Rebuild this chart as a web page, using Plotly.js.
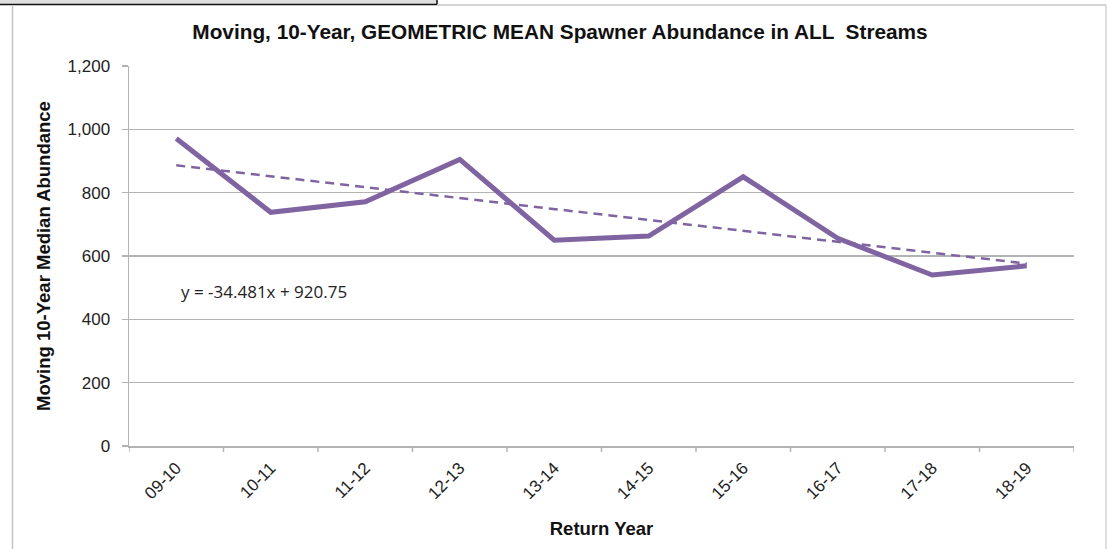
<!DOCTYPE html>
<html>
<head>
<meta charset="utf-8">
<script src="https://cdn.plot.ly/plotly-3.0.1.min.js"></script>
<style>
html,body{margin:0;padding:0;background:#fff;}
#chart{width:1107px;height:549px;}
</style>
</head>
<body>
<div id="chart"></div>
<script>
// Data
const returnYears = ['09-10','10-11','11-12','12-13','13-14','14-15','15-16','16-17','17-18','18-19'];
const abundance = [971, 738, 771, 905, 650, 663, 850, 656, 540, 569];
// Excel linear trendline (y = -34.481x + 920.75) endpoints
const trendYears = ['09-10','18-19'];
const trendValues = [886.3, 575.9];
const yTickVals = [0, 200, 400, 600, 800, 1000, 1200];
const yTickText = ['0','200','400','600','800','1,000','1,200'];
const equationText = 'y = -34.481x + 920.75';

const L = 129, R = 1074, T = 66, B = 446, W = 1107, H = 549;
const px = x => (x - L) / (R - L);
const py = y => (B - y) / (B - T);

const lineColor = '#8064A2';
const gridColor = '#b3b3b3';

const traces = [
  {
    x: returnYears, y: abundance, type: 'scatter', mode: 'lines',
    line: {color: lineColor, width: 5}, hoverinfo: 'x+y', showlegend: false
  },
  {
    x: trendYears, y: trendValues, type: 'scatter', mode: 'lines',
    line: {color: lineColor, width: 2.5, dash: '9px,6px'}, showlegend: false, hoverinfo: 'skip'
  }
];

const shapes = [
  // top strip of an overlapping window
  {type:'rect', xref:'paper', yref:'paper', x0:px(0), x1:px(437), y0:py(0), y1:py(4), fillcolor:'#dedede', line:{width:0}, layer:'above'},
  {type:'line', xref:'paper', yref:'paper', x0:px(0), x1:px(437), y0:py(4.5), y1:py(4.5), line:{color:'#111', width:1.5}},
  {type:'line', xref:'paper', yref:'paper', x0:px(437), x1:px(437), y0:py(0), y1:py(5), line:{color:'#111', width:1.5}},
  // chart border
  {type:'line', xref:'paper', yref:'paper', x0:px(437), x1:px(1106), y0:py(5), y1:py(5), line:{color:'#c4c4c4', width:1.5}},
  {type:'line', xref:'paper', yref:'paper', x0:px(12.5), x1:px(12.5), y0:py(5), y1:py(549), line:{color:'#c4c4c4', width:1.5}},
  {type:'line', xref:'paper', yref:'paper', x0:px(1106), x1:px(1106), y0:py(5), y1:py(549), line:{color:'#d4d4d4', width:1.5}}
];

const layout = {
  width: W, height: H,
  margin: {l: L, r: W - R, t: T, b: H - B, pad: 0},
  paper_bgcolor: '#fff', plot_bgcolor: '#fff',
  showlegend: false,
  font: {family: '"Liberation Sans", Arial, sans-serif', color: '#222'},
  title: {
    text: '<b>Moving, 10-Year, GEOMETRIC MEAN Spawner Abundance in ALL  Streams</b>',
    font: {size: 20.8, color: '#111', family: '"Liberation Sans", Arial, sans-serif'},
    x: 560 / W, xanchor: 'center', xref: 'container',
    y: 1 - 32 / H, yanchor: 'middle', yref: 'container'
  },
  xaxis: {
    type: 'category',
    range: [-0.5, returnYears.length - 0.5],
    tickmode: 'array', tickvals: returnYears, ticktext: returnYears,
    tickangle: -45,
    tickfont: {size: 17, color: '#222'},
    ticks: '', showgrid: false,
    showline: true, linecolor: gridColor, linewidth: 1.5,
    zeroline: false,
    ticklabelstandoff: 4,
    title: {text: '<b>Return Year</b>', font: {size: 18.5, color: '#111'}, standoff: 20},
    fixedrange: true
  },
  yaxis: {
    range: [0, 1200],
    tickmode: 'array', tickvals: yTickVals, ticktext: yTickText,
    tickfont: {size: 17, color: '#222'},
    ticks: 'outside', ticklen: 6, tickcolor: gridColor, tickwidth: 1.5,
    ticklabelstandoff: 8,
    showgrid: true, gridcolor: gridColor, gridwidth: 1.5,
    showline: true, linecolor: gridColor, linewidth: 1.5,
    zeroline: false,
    title: {text: '<b>Moving 10-Year Median Abundance</b>', font: {size: 18.5, color: '#111'}, standoff: 12},
    fixedrange: true
  },
  shapes: shapes,
  annotations: [
    {
      xref: 'paper', yref: 'paper', x: px(179), y: py(291),
      xanchor: 'left', yanchor: 'middle', showarrow: false,
      text: equationText,
      font: {size: 17, color: '#222', family: '"Open Sans", "Noto Sans", sans-serif'}
    }
  ]
};

// category boundary tick marks on the x axis (Excel style: between categories)
for (let i = 0; i <= returnYears.length; i++) {
  layout.shapes.push({
    type: 'line', xref: 'x', yref: 'paper',
    x0: i - 0.5, x1: i - 0.5, y0: 0, y1: py(452),
    line: {color: gridColor, width: 1.5}
  });
}

Plotly.newPlot('chart', traces, layout, {displayModeBar: false, staticPlot: true});
</script>
</body>
</html>
